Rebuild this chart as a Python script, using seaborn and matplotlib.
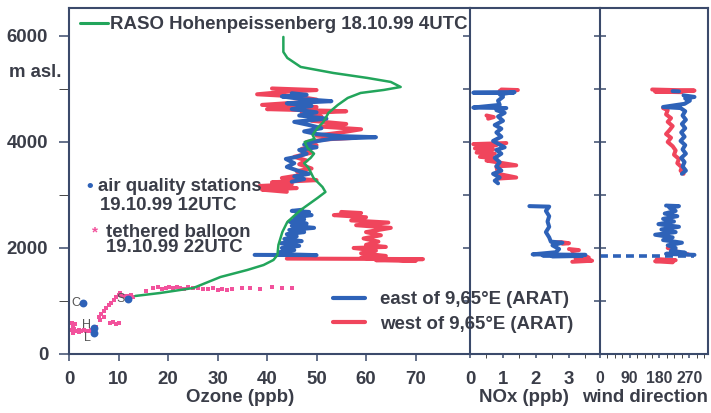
import numpy as np
import pandas as pd
import matplotlib
matplotlib.use("Agg")
import matplotlib.pyplot as plt
from matplotlib.lines import Line2D
from matplotlib.ticker import MultipleLocator, FixedLocator
import seaborn as sns

nan = np.nan

# ---------------- data ----------------
# RASO ozone sounding Hohenpeissenberg, 18.10.99 4 UTC
raso_o3 = [13.4, 18.4, 25.1, 30.6, 36.0, 39.3, 41.3, 42.1, 42.3, 43.1, 44.1, 46.8, 50.2, 51.8,
           51.2, 49.4, 48.4, 47.5, 48.8, 49.5, 48.2, 47.6, 49.6, 49.2, 50.2, 51.4, 52.4, 54.3,
           56.3, 58.9, 63.6, 67.0, 65.0, 60.3, 53.4, 46.8, 44.1, 43.3, 43.3]
raso_z = [1095, 1151, 1245, 1453, 1585, 1679, 1774, 1868, 2057, 2302, 2491, 2717, 2944, 3057,
          3151, 3321, 3510, 3600, 3699, 3780, 3887, 4000, 4060, 4133, 4265, 4378, 4548, 4699,
          4831, 4925, 4982, 5038, 5133, 5208, 5302, 5416, 5586, 5699, 5982]

# air quality stations, 19.10.99 12 UTC
station_names = ["C", "H", "L", "S"]
station_o3 = [2.9, 5.1, 5.1, 12.0]
station_z = [970, 490, 400, 1040]

# tethered balloon, 19.10.99 22 UTC
balloon_o3 = [0.5, 0.8, 1.0, 1.5, 2.0, 2.5, 3.0, 3.5, 4.0, 4.5, 5.0, 5.5, 0.7, 1.2, 0.9, 2.0,
              6.2, 7.0, 8.3, 8.9, 9.5, 10.0, 6.0, 6.5, 7.0, 7.5, 8.0, 8.5, 9.0, 9.5, 10.0, 10.4,
              11.0, 11.8, 12.5, 13.0,
              15.5, 17.0, 18.0, 18.8, 19.5, 20.3, 21.0, 21.8, 22.5, 23.3, 24.0, 25.0, 26.0,
              27.0, 28.0, 29.0, 30.0, 31.0, 32.0, 33.0, 35.0, 36.5, 38.5, 41.0, 43.0, 45.0]
balloon_z = [450, 520, 480, 430, 450, 440, 460, 430, 440, 455, 470, 500, 580, 560, 400, 410,
             640, 700, 580, 600, 560, 590, 700, 760, 820, 870, 920, 970, 1020, 1070, 1110, 1150,
             1090, 1100, 1110, 1080,
             1180, 1240, 1260, 1230, 1250, 1270, 1240, 1260, 1250, 1230, 1260, 1240, 1250,
             1230, 1220, 1240, 1210, 1230, 1200, 1220, 1240, 1250, 1230, 1260, 1240, 1250]

# ARAT aircraft, east of 9.65 E (nan separates flight legs)
east_o3 = [37.5, 50.0, 44.0, 42.5, 45.5, 43.0, 46.5, 42.8, 47.0, 43.5, 46.0, 44.0, 47.5, 44.5,
           49.5, 45.0, 48.0, 44.5, 47.5, 45.5, 49.0, 46.0, 48.5, 45.0, 47.0, nan,
           45.0, 47.5, 45.5, 48.5, 46.5, 44.0, 45.5, 43.8, 46.0, 48.0, 46.5, 50.0, 47.5, 49.0,
           53.0, 62.0, 55.0, 50.0, 47.5, 51.0, 48.5, 45.5, 52.0, 46.5, 50.0, 45.0, 49.0, 44.0,
           53.0, 47.0, 43.0, 48.0, 45.0]
east_o3_z = [1870, 1865, 1880, 1920, 1960, 2000, 2040, 2090, 2130, 2170, 2220, 2260, 2300, 2340,
             2380, 2420, 2460, 2500, 2540, 2580, 2620, 2650, 2680, 2700, 2720, nan,
             3250, 3300, 3350, 3400, 3450, 3530, 3600, 3680, 3720, 3780, 3850, 3900, 3950, 4000,
             4060, 4090, 4110, 4150, 4200, 4260, 4320, 4380, 4440, 4500, 4560, 4620, 4680, 4730,
             4770, 4810, 4860, 4890, 4920]

east_nox = [1.80, 2.40, 2.30, 2.40, 2.35, 2.40, 2.30, 2.40, 2.45, 2.80, 2.50, 2.70, 2.60, 1.90,
            3.50, 2.20, 3.40, 2.50, nan,
            1.30, 0.10, 1.35, 0.90, 1.00, 0.85, 0.90, 0.10, 1.10, 0.80, 1.05, 0.85, 1.00, 0.75,
            0.95, 0.80, 0.95, 0.70, 0.90, 1.05, 0.80, 0.95, 0.75, 0.90, 0.80, 0.95, 0.70, 0.90,
            0.75, 0.85]
east_nox_z = [2790, 2780, 2700, 2600, 2500, 2400, 2300, 2200, 2120, 2100, 2050, 1980, 1920, 1880,
              1870, 1860, 1850, 1840, nan,
              4925, 4930, 4940, 4900, 4850, 4780, 4700, 4650, 4640, 4600, 4550, 4480, 4400, 4320,
              4250, 4180, 4100, 4020, 3950, 3900, 3850, 3780, 3700, 3620, 3540, 3460, 3400, 3330,
              3270, 3220]

east_wd = [200, 239, 210, 229, 196, 234, 191, 224, 177, 239, 186, 229, 167, 220, 191, 248, 205,
           229, 215, 258, 200, 286, nan,
           220, 239, nan,
           253, 286, 258, 272, 256, 191, 244, 258, 250, 260, 248, 258, 246, 256, 244, 258, 250,
           260, 246, 256, 250, 260, 248]
east_wd_z = [2800, 2790, 2760, 2700, 2650, 2600, 2550, 2500, 2450, 2400, 2350, 2300, 2250, 2200,
             2150, 2100, 2050, 2000, 1950, 1910, 1890, 1870, nan,
             4960, 4955, nan,
             4880, 4850, 4820, 4780, 4720, 4660, 4640, 4580, 4500, 4420, 4340, 4260, 4180, 4100,
             4020, 3940, 3860, 3780, 3700, 3620, 3540, 3460, 3400]

# turn of the aircraft through all wind directions
turn_wd = [0, 286]
turn_wd_z = [1850, 1850]

# ARAT aircraft, west of 9.65 E
west_o3 = [44.0, 60.0, 71.5, 62.0, 70.0, 59.0, 64.0, 59.0, 62.0, 57.5, 64.0, 60.0, 62.5, 59.5,
           63.0, 60.0, 65.0, 58.0, 64.5, 57.0, 60.0, 53.5, 59.0, 55.0, nan,
           44.0, 39.0, 46.0, 38.5, 45.0, 41.0, 50.0, 43.0, 47.0, 46.0, 49.0, 46.5, 48.0, 45.5,
           49.0, 47.0, 50.0, 48.0, 52.0, 58.0, 50.0, 55.0, 59.0, 51.0, 56.0, 49.0, 51.0, 47.0,
           56.0, 40.0, 50.0, 39.0, 47.0, 50.0, 46.0, 38.0, 44.0, 50.0, 41.0]
west_o3_z = [1800, 1795, 1790, 1770, 1755, 1815, 1850, 1900, 1950, 2000, 2020, 2060, 2120, 2180,
             2240, 2300, 2380, 2430, 2480, 2520, 2580, 2620, 2660, 2680, nan,
             3060, 3100, 3130, 3170, 3200, 3240, 3280, 3320, 3380, 3450, 3500, 3580, 3650, 3720,
             3800, 3870, 3940, 4000, 4050, 4080, 4120, 4180, 4240, 4290, 4340, 4400, 4480, 4540,
             4580, 4620, 4660, 4700, 4750, 4800, 4860, 4900, 4950, 4980, 5010]

west_nox = [2.50, 2.75, 3.00, 2.80, nan, 3.00, 3.30, 3.10, nan, 3.00, 3.60, 3.20, 3.70, 3.10, nan,
            0.95, 1.45, 0.90, nan, 0.50, 0.72, 0.55, nan,
            1.10, 0.10, 0.80, 0.15, 0.70, 0.20, 0.75, 0.30, 0.80, 0.50, 1.40, 0.80, 0.85, 1.40, 0.85]
west_nox_z = [2100, 2110, 2090, 2080, nan, 1980, 1960, 1940, nan, 1860, 1820, 1800, 1760, 1740, nan,
              4990, 4980, 4965, nan, 4500, 4470, 4440, nan,
              3980, 3960, 3940, 3880, 3860, 3800, 3780, 3720, 3690, 3650, 3560, 3540, 3400, 3330, 3310]

west_wd = [205, 229, 220, 267, nan, 172, 229, 167, 220, nan,
           158, 286, 167, 248, nan,
           191, 205, 200, 215, 205, 220, 210, 200, 215, 205, 220, 229, 224, 239, 234, 248, 244, 253]
west_wd_z = [2000, 1960, 1920, 1880, nan, 1790, 1770, 1750, 1730, nan,
             4990, 4970, 4950, 4940, nan,
             4640, 4600, 4520, 4450, 4380, 4300, 4220, 4150, 4080, 4000, 3920, 3840, 3760, 3680,
             3600, 3520, 3460, 3400]

# ---------------- style ----------------
sns.set_style("white")
plt.rcParams["font.family"] = ["Liberation Sans", "DejaVu Sans"]
plt.rcParams["font.weight"] = "bold"

INK = "#3a3d48"
SPINE = "#3b4a6b"
GREEN = "#22a55b"
BLUE = "#2e62b8"
RED = "#f0455c"
PINK = "#f2529c"
FS = 13.4

W, H = 711, 413
fig = plt.figure(figsize=(W / 100, H / 100), dpi=100)


def panel(x0, x1, y_top=8, y_bot=354):
    return fig.add_axes([x0 / W, (H - y_bot) / H, (x1 - x0) / W, (y_bot - y_top) / H])


ax_o3 = panel(69, 470)
ax_nox = panel(470, 600)
ax_wd = panel(600, 708)
axes = [ax_o3, ax_nox, ax_wd]
for ax in axes:
    ax.patch.set_visible(False)
ax_o3.set_zorder(3)


def trace(ax, x, z, color, lw=2.9, **kw):
    df = pd.DataFrame({"x": x, "z": z})
    df["leg"] = df["x"].isna().cumsum()
    df = df.dropna()
    sns.lineplot(data=df, x="x", y="z", units="leg", estimator=None, sort=False,
                 color=color, lw=lw, ax=ax, legend=False, **kw)


# ozone panel
trace(ax_o3, west_o3, west_o3_z, RED)
trace(ax_o3, east_o3, east_o3_z, BLUE)
sns.lineplot(x=raso_o3, y=raso_z, sort=False, estimator=None, color=GREEN, lw=1.8, ax=ax_o3)
sns.scatterplot(x=balloon_o3, y=balloon_z, color=PINK, s=7, marker="s", linewidth=0, ax=ax_o3)
sns.scatterplot(x=station_o3, y=station_z, color=BLUE, s=32, linewidth=0, ax=ax_o3, zorder=5)
label_shift = {"C": (-2.5, 0), "H": (-2.5, 2.5), "L": (-2.5, -3.5), "S": (-2.5, 0)}
for name, o, z in zip(station_names, station_o3, station_z):
    ax_o3.annotate(name, (o, z), xytext=label_shift[name], textcoords="offset points",
                   ha="right", va="center", fontsize=9, fontweight="normal", color="#555555",
                   zorder=6)

# NOx panel
trace(ax_nox, west_nox, west_nox_z, RED)
trace(ax_nox, east_nox, east_nox_z, BLUE)

# wind direction panel
trace(ax_wd, west_wd, west_wd_z, RED)
trace(ax_wd, east_wd, east_wd_z, BLUE)
trace(ax_wd, turn_wd, turn_wd_z, BLUE, lw=2.6, linestyle=(0, (2.2, 1.4)))

# ---------------- axes ----------------
for ax in axes:
    ax.set_ylim(0, 6528)
    ax.set_ylabel("")
    for s in ax.spines.values():
        s.set_color(SPINE)
        s.set_linewidth(1.5)
    ax.tick_params(colors=SPINE, labelcolor=INK, labelsize=FS, width=1.1)
ax_o3.spines["right"].set_visible(False)
ax_nox.spines["right"].set_visible(False)

ax_o3.set_xlim(0, 81)
ax_o3.xaxis.set_major_locator(FixedLocator([0, 10, 20, 30, 40, 50, 60, 70]))
ax_o3.yaxis.set_major_locator(MultipleLocator(2000))
ax_o3.yaxis.set_minor_locator(MultipleLocator(1000))
ax_o3.tick_params(axis="y", which="both", direction="out", length=7, pad=8, left=True)
ax_o3.tick_params(axis="x", direction="out", length=5, pad=7, bottom=True)

ax_nox.set_xlim(0, 3.94)
ax_nox.xaxis.set_major_locator(FixedLocator([0, 1, 2, 3]))
ax_nox.xaxis.set_minor_locator(MultipleLocator(0.5))
ax_nox.tick_params(axis="x", which="both", direction="out", length=3, pad=9, bottom=True)
ax_nox.yaxis.set_major_locator(MultipleLocator(1000))
ax_nox.tick_params(axis="y", direction="out", length=5, left=True, labelleft=False)

ax_wd.set_xlim(0, 327)
ax_wd.xaxis.set_major_locator(FixedLocator([0, 90, 180, 270]))
ax_wd.xaxis.set_minor_locator(MultipleLocator(22.5))
ax_wd.tick_params(axis="x", which="both", direction="out", length=3, pad=9, bottom=True,
                  labelsize=11.3)
ax_wd.yaxis.set_major_locator(MultipleLocator(1000))
ax_wd.tick_params(axis="y", direction="inout", length=8, left=True, labelleft=False)

for ax, label, xc in [(ax_o3, "Ozone (ppb)", 0.426), (ax_nox, "NOx (ppb)", 0.415),
                      (ax_wd, "wind direction", 0.417)]:
    ax.set_xlabel(label, fontsize=FS, fontweight="bold", color=INK)
    ax.xaxis.set_label_coords(xc, -0.101)

ax_o3.text(-0.0175, 0.815, "m asl.", transform=ax_o3.transAxes, ha="right", va="center",
           fontsize=FS, color=INK)

# ---------------- legends and keys ----------------
leg_raso = ax_o3.legend(handles=[Line2D([], [], color=GREEN, lw=2.2)],
                        labels=["RASO Hohenpeissenberg 18.10.99 4UTC"],
                        loc="center left", bbox_to_anchor=(0.0274, 0.951), frameon=False,
                        borderpad=0, borderaxespad=0, handlelength=1.5, handletextpad=0.11,
                        prop={"size": FS, "weight": "bold"}, labelcolor=INK)
ax_o3.add_artist(leg_raso)
ax_o3.legend(handles=[Line2D([], [], color=BLUE, lw=3), Line2D([], [], color=RED, lw=3)],
             labels=["east of 9,65°E (ARAT)", "west of 9,65°E (ARAT)"],
             loc="center left", bbox_to_anchor=(0.658, 0.1214), frameon=False,
             borderpad=0, borderaxespad=0, handlelength=1.72, handletextpad=0.8,
             labelspacing=0.4, prop={"size": FS, "weight": "bold"}, labelcolor=INK)

ax_o3.text(0.0524, 0.4855, "•", transform=ax_o3.transAxes, ha="center", va="center",
           fontsize=FS, color=BLUE)
ax_o3.text(0.0723, 0.4855, "air quality stations", transform=ax_o3.transAxes, ha="left",
           va="center", fontsize=FS, color=INK)
ax_o3.text(0.0773, 0.4306, "19.10.99 12UTC", transform=ax_o3.transAxes, ha="left",
           va="center", fontsize=FS, color=INK)
ax_o3.text(0.0648, 0.352, "*", transform=ax_o3.transAxes, ha="center", va="center",
           fontsize=11, color=PINK)
ax_o3.text(0.0923, 0.3526, "tethered balloon", transform=ax_o3.transAxes, ha="left",
           va="center", fontsize=FS, color=INK)
ax_o3.text(0.0923, 0.3064, "19.10.99 22UTC", transform=ax_o3.transAxes, ha="left",
           va="center", fontsize=FS, color=INK)

fig.savefig("out.png", dpi=100, facecolor="white")
